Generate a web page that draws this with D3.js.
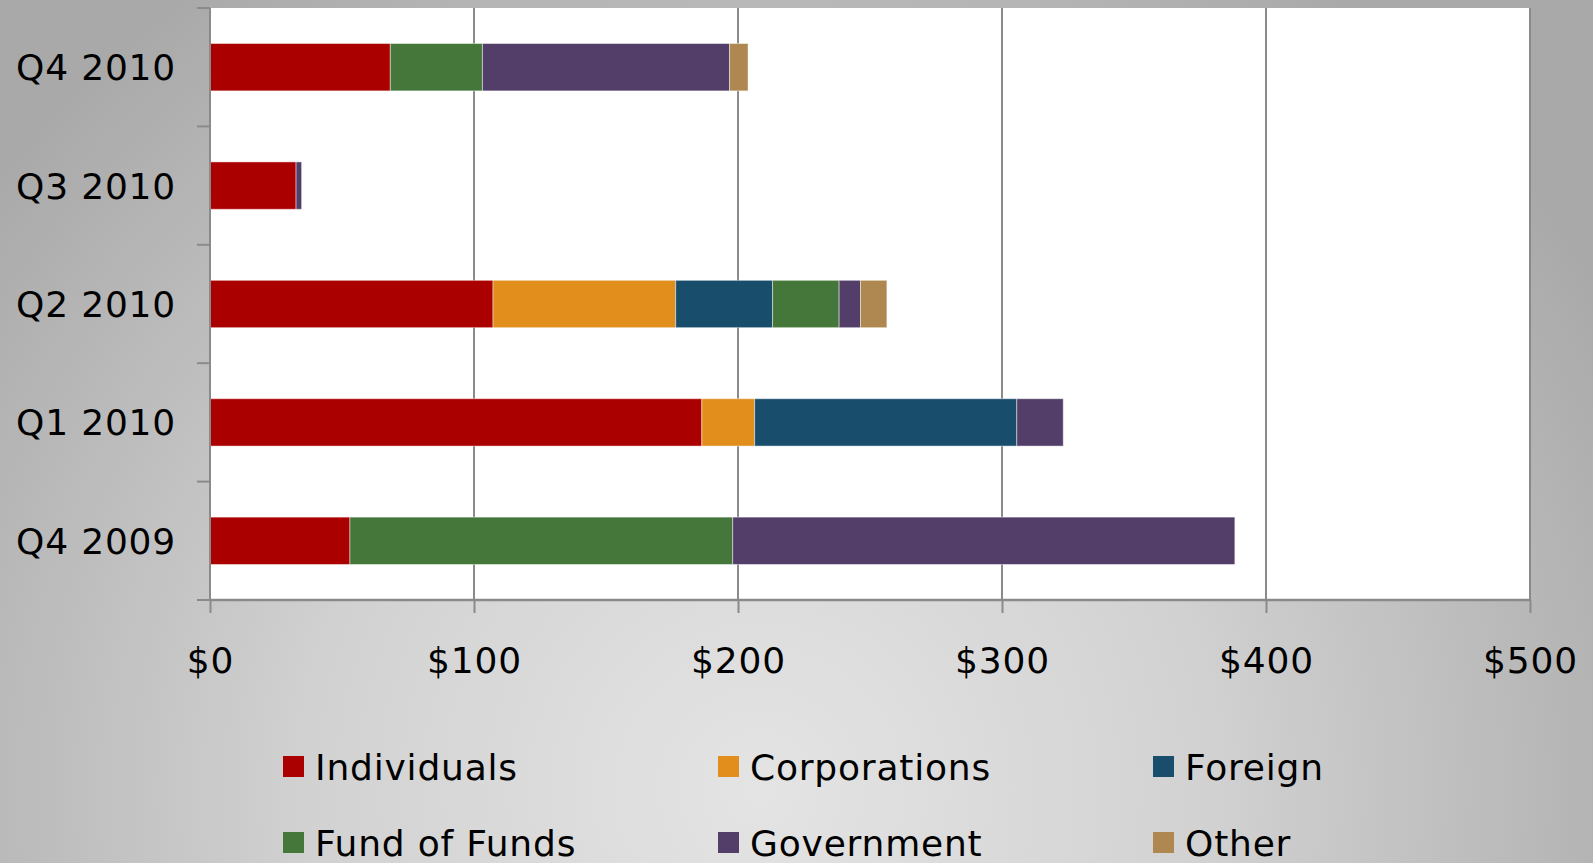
<!DOCTYPE html>
<html>
<head>
<meta charset="utf-8">
<title>Commitments by investor type</title>
<style>
  html, body { margin: 0; padding: 0; overflow: hidden; }
  svg { display: block; }
  text { font-family: "DejaVu Sans", Verdana, sans-serif; fill: #000; letter-spacing: 0.8px; }
</style>
</head>
<body>
<svg width="1593" height="863"></svg>
<script src="https://d3js.org/d3.v7.min.js"></script>
<script>

// quarters, top to bottom as drawn
var quarters = ["Q4 2010", "Q3 2010", "Q2 2010", "Q1 2010", "Q4 2009"];

var series = ["Individuals", "Corporations", "Foreign", "Fund of Funds", "Government", "Other"];

// $ values per quarter, same order as quarters
var individuals  = [68.3, 32.6, 107.2, 186.3, 53.0];
var corporations = [0,    0,    69.2,  20.0,  0];
var foreign      = [0,    0,    36.7,  99.3,  0];
var fundOfFunds  = [34.9, 0,    25.2,  0,     145.0];
var government   = [93.6, 2.1,  8.1,   17.6,  190.2];
var other        = [7.0,  0,    10.0,  0,     0];

var xTicks = [0, 100, 200, 300, 400, 500];

var colors = ["#ab0000", "#e28e1d", "#184e6c", "#46773a", "#533e69", "#ae8850"];

var rows = quarters.map(function(q, i) {
  return {
    quarter: q,
    "Individuals": individuals[i],
    "Corporations": corporations[i],
    "Foreign": foreign[i],
    "Fund of Funds": fundOfFunds[i],
    "Government": government[i],
    "Other": other[i]
  };
});

var svg = d3.select("svg"),
    margin = {top: 8, right: 63, bottom: 263, left: 210},
    width = +svg.attr("width") - margin.left - margin.right,
    height = +svg.attr("height") - margin.top - margin.bottom;

// background
var defs = svg.append("defs");
var grad = defs.append("radialGradient")
    .attr("id", "bg")
    .attr("gradientUnits", "userSpaceOnUse")
    .attr("cx", 760).attr("cy", 790).attr("r", 980);
grad.append("stop").attr("offset", 0).attr("stop-color", "#e4e4e4");
grad.append("stop").attr("offset", 0.45).attr("stop-color", "#d2d2d2");
grad.append("stop").attr("offset", 1).attr("stop-color", "#a9a9a9");

svg.append("rect")
    .attr("width", 1593).attr("height", 863)
    .attr("fill", "url(#bg)");

var g = svg.append("g").attr("transform", "translate(" + margin.left + "," + margin.top + ")");

var x = d3.scaleLinear().domain([0, 500]).range([0, width]);
var y = d3.scaleBand().domain(quarters).range([0, height]).paddingInner(0.6).paddingOuter(0.3);
var z = d3.scaleOrdinal().domain(series).range(colors);

g.append("rect")
    .attr("width", width).attr("height", height)
    .attr("fill", "#fff");

// vertical gridlines
g.append("g")
    .selectAll("line")
    .data(xTicks.slice(1))
    .enter().append("line")
    .attr("x1", function(d) { return x(d); })
    .attr("x2", function(d) { return x(d); })
    .attr("y1", 0).attr("y2", height)
    .attr("stroke", "#8a8a8a")
    .attr("stroke-width", 2);

var stacked = d3.stack().keys(series)(rows);

g.selectAll(".serie")
  .data(stacked)
  .enter().append("g")
    .attr("class", "serie")
    .attr("fill", function(d) { return z(d.key); })
  .selectAll("rect")
  .data(function(d) { return d.filter(function(p) { return p[1] - p[0] > 0; }); })
  .enter().append("rect")
    .attr("x", function(d) { return x(d[0]); })
    .attr("width", function(d) { return x(d[1]) - x(d[0]); })
    .attr("y", function(d) { return y(d.data.quarter); })
    .attr("height", y.bandwidth())
    .attr("stroke", "rgba(255,255,255,0.45)")
    .attr("stroke-width", 1);

// x axis
var xAxis = g.append("g")
    .attr("transform", "translate(0," + height + ")")
    .call(d3.axisBottom(x).tickValues(xTicks).tickSize(13).tickSizeOuter(0)
      .tickFormat(function(d) { return "$" + d; }));
xAxis.select(".domain").remove();
xAxis.selectAll("line").attr("stroke", "#8a8a8a").attr("stroke-width", 2);
xAxis.selectAll("text")
    .attr("y", 73).attr("dy", 0)
    .style("font-size", "36px");

// y axis, labels centred on bars, ticks between bands
var yAxis = g.append("g")
    .call(d3.axisLeft(y).tickSize(0).tickPadding(34));
yAxis.select(".domain").remove();
yAxis.selectAll("text").style("font-size", "36px").attr("dy", "0.36em");

var step = y.step();
var bounds = d3.range(quarters.length + 1).map(function(i) { return i * step; });
g.append("g")
  .selectAll("line")
  .data(bounds)
  .enter().append("line")
    .attr("x1", -13).attr("x2", 0)
    .attr("y1", function(d) { return d; })
    .attr("y2", function(d) { return d; })
    .attr("stroke", "#8a8a8a")
    .attr("stroke-width", 2);

g.append("line")
    .attr("x1", 0).attr("x2", 0).attr("y1", 0).attr("y2", height)
    .attr("stroke", "#8a8a8a").attr("stroke-width", 2);
g.append("line")
    .attr("x1", 0).attr("x2", width).attr("y1", height).attr("y2", height)
    .attr("stroke", "#8a8a8a").attr("stroke-width", 2.5);

// legend
var legend = svg.append("g")
  .selectAll("g")
  .data(series)
  .enter().append("g")
    .attr("transform", function(d, i) {
      return "translate(" + (283 + (i % 3) * 435) + "," + (756 + Math.floor(i / 3) * 76) + ")";
    });

legend.append("rect")
    .attr("width", 21).attr("height", 21)
    .attr("fill", function(d) { return z(d); });

legend.append("text")
    .attr("x", 32).attr("y", 24)
    .style("font-size", "36px")
    .text(function(d) { return d; });

</script>
</body>
</html>
